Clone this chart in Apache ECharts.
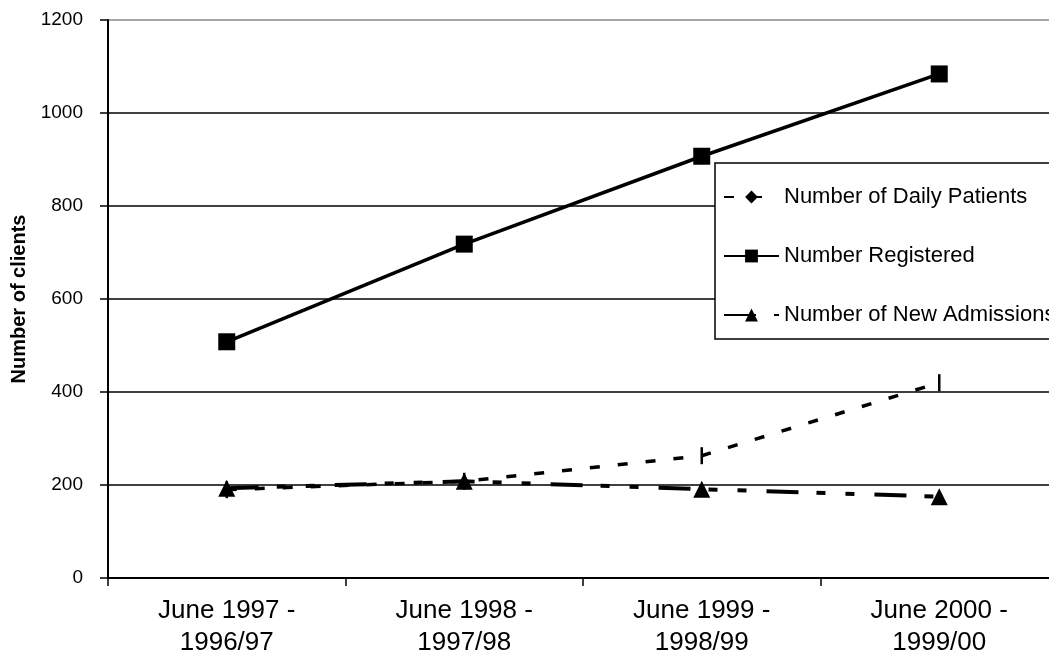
<!DOCTYPE html>
<html>
<head>
<meta charset="utf-8">
<script src="https://cdn.jsdelivr.net/npm/echarts@6/dist/echarts.min.js"></script>
<style>
  html, body { margin: 0; padding: 0; background: #fff; }
  #chart { width: 1049px; height: 664px; }
</style>
</head>
<body>
<div id="chart"></div>
<script>
// Category labels (two lines each)
const categories = [
  'June 1997 -\n1996/97',
  'June 1998 -\n1997/98',
  'June 1999 -\n1998/99',
  'June 2000 -\n1999/00'
];

// Series values
const dailyPatients = [190, 208, 263, 420];
const registered = [508, 718, 907, 1084];
const newAdmissions = [193, 208, 191, 175];

// Value axis ticks
const yMin = 0;
const yMax = 1200;
const yStep = 200;

const FONT = '"Liberation Sans", Arial, sans-serif';
// thin upright marker used on the daily-patients points
const BAR_MARK = 'path://M0,0L2,0L2,17L0,17Z';

const chart = echarts.init(document.getElementById('chart'), null, { renderer: 'canvas' });

chart.setOption({
  backgroundColor: '#ffffff',
  animation: false,
  textStyle: { fontFamily: FONT, color: '#000' },
  // plot area runs slightly past the right edge of the canvas
  grid: { left: 108, top: 20, width: 950, height: 558, outerBoundsMode: 'none', containLabel: false },
  legend: {
    orient: 'vertical',
    left: 715,
    top: 163,
    padding: [23, 40, 13, 8],
    itemWidth: 55,
    itemHeight: 16,
    itemGap: 37,
    backgroundColor: '#fff',
    borderColor: '#000',
    borderWidth: 1.5,
    textStyle: { fontFamily: FONT, fontSize: 22, color: '#000', padding: [0, 0, 0, 0] },
    data: ['Number of Daily Patients', 'Number Registered', 'Number of New Admissions']
  },
  xAxis: {
    type: 'category',
    data: categories,
    boundaryGap: true,
    axisLine: { show: true, lineStyle: { color: '#000', width: 2 } },
    axisTick: { show: true, alignWithLabel: false, length: 8, lineStyle: { color: '#000', width: 1.5 } },
    axisLabel: {
      color: '#000',
      fontFamily: FONT,
      fontSize: 26,
      lineHeight: 32,
      margin: 17,
      interval: 0
    },
    splitLine: { show: false }
  },
  yAxis: {
    type: 'value',
    min: yMin,
    max: yMax,
    interval: yStep,
    name: 'Number of clients',
    nameLocation: 'middle',
    nameGap: 78,
    nameRotate: 90,
    nameTextStyle: { fontFamily: FONT, fontSize: 20, fontWeight: 'bold', color: '#000' },
    axisLine: { show: true, lineStyle: { color: '#000', width: 2 } },
    axisTick: { show: true, length: 8, lineStyle: { color: '#000', width: 1.5 } },
    axisLabel: {
      color: '#000',
      fontFamily: FONT,
      fontSize: 19,
      margin: 25,
      formatter: (v) => String(v)
    },
    splitLine: {
      show: true,
      lineStyle: { color: ['#000', '#000', '#000', '#000', '#000', '#000', '#888'], width: 1.5 }
    }
  },
  series: [
    {
      name: 'Number of Daily Patients',
      type: 'line',
      data: dailyPatients.map((v) => ({ value: v, symbol: BAR_MARK, symbolSize: [2.5, 17] })),
      symbol: 'diamond',
      showSymbol: true,
      color: '#000',
      lineStyle: { color: '#000', width: 3.5, type: [10, 18] },
      itemStyle: { color: '#000' },
      z: 2
    },
    {
      name: 'Number Registered',
      type: 'line',
      data: registered,
      symbol: 'rect',
      symbolSize: 17,
      color: '#000',
      lineStyle: { color: '#000', width: 3.5, type: 'solid' },
      itemStyle: { color: '#000' },
      z: 3
    },
    {
      name: 'Number of New Admissions',
      type: 'line',
      data: newAdmissions,
      symbol: 'triangle',
      symbolSize: 17,
      color: '#000',
      lineStyle: { color: '#000', width: 4, type: [32, 18, 9, 20, 9, 20] },
      itemStyle: { color: '#000' },
      z: 4
    }
  ]
});
</script>
</body>
</html>
